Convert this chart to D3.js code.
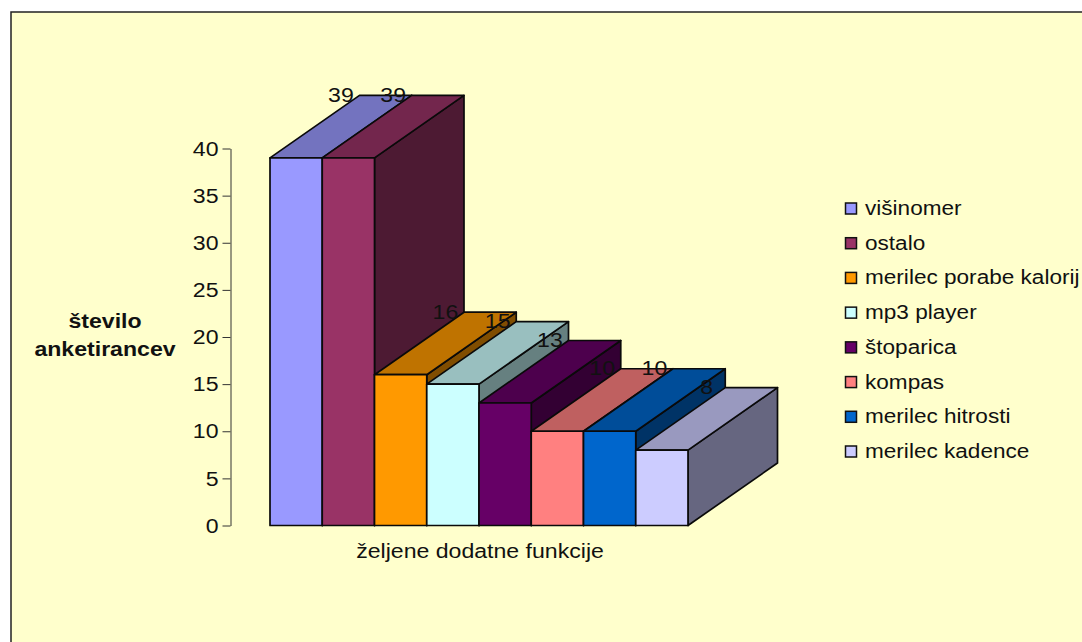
<!DOCTYPE html>
<html>
<head>
<meta charset="utf-8">
<script src="https://cdn.jsdelivr.net/npm/d3@7"></script>
<style>
  html, body { margin: 0; padding: 0; background: #fff; overflow: hidden; }
  svg { display: block; }
  text { font-family: "Liberation Sans", Arial, sans-serif; fill: #111; }
</style>
</head>
<body>
<svg id="chart" width="1082" height="642"></svg>
<script>
// Survey answers: desired extra functions and respondent counts
const categories = ["višinomer", "ostalo", "merilec porabe kalorij", "mp3 player",
                    "štoparica", "kompas", "merilec hitrosti", "merilec kadence"];
const counts = [39, 39, 16, 15, 13, 10, 10, 8];
const frontColors = ["#9999FF", "#993366", "#FF9900", "#CCFFFF",
                     "#660066", "#FF8080", "#0066CC", "#CCCCFF"];
const yTicks = [0, 5, 10, 15, 20, 25, 30, 35, 40];
const yTitleLines = ["število", "anketirancev"];
const xTitle = "željene dodatne funkcije";

const svg = d3.select("#chart");
const fontSize = 21;

// Widen glyphs horizontally around each text's own anchor point
const widen = (sel, k = 1.1) => sel.each(function () {
  const t = d3.select(this);
  const px = +t.attr("x") || 0, py = +t.attr("y") || 0;
  t.attr("x", null).attr("y", null)
   .attr("transform", `translate(${px},${py}) scale(${k},1)`);
});

// Chart area panel, its right and bottom edges run off the page
svg.append("rect")
  .attr("x", 11).attr("y", 12)
  .attr("width", 1100).attr("height", 660)
  .attr("fill", "#FFFFCC").attr("stroke", "#222").attr("stroke-width", 1.5);

const x = d3.scaleBand().domain(categories).range([270, 688]).padding(0);
const y = d3.scaleLinear().domain([0, 40]).range([525.5, 148.5]);
const depth = { dx: 89.5, dy: -62.5 };

// Value axis
const axis = svg.append("g")
  .attr("transform", "translate(230.5,0)")
  .call(d3.axisLeft(y).tickValues(yTicks).tickSize(8).tickPadding(4).tickSizeOuter(0));
axis.selectAll("path, line").attr("stroke", "#333").attr("stroke-width", 1);
axis.selectAll("text").attr("font-size", fontSize)
  .style("font-family", '"Liberation Sans", Arial, sans-serif').attr("fill", "#111")
  .call(widen);

// Shade a face by scaling the front colour
const shade = (c, k) => {
  const r = d3.rgb(c);
  return d3.rgb(r.r * k, r.g * k, r.b * k).formatHex();
};
const poly = pts => pts.map(p => p.join(",")).join(" ");

// Bars are painted left to right so that each one overlaps its neighbour's side
const bars = svg.append("g")
  .attr("stroke", "#0a0a0a").attr("stroke-width", 1.7).attr("stroke-linejoin", "round");

categories.forEach((name, i) => {
  const x0 = x(name), x1 = x0 + x.bandwidth();
  const yTop = y(counts[i]), yBase = y(0);
  const { dx, dy } = depth;
  bars.append("polygon")
    .attr("points", poly([[x1, yTop], [x1 + dx, yTop + dy], [x1 + dx, yBase + dy], [x1, yBase]]))
    .attr("fill", shade(frontColors[i], 0.5));
  bars.append("polygon")
    .attr("points", poly([[x0, yTop], [x0 + dx, yTop + dy], [x1 + dx, yTop + dy], [x1, yTop]]))
    .attr("fill", shade(frontColors[i], 0.75));
  bars.append("rect")
    .attr("x", x0).attr("y", yTop)
    .attr("width", x.bandwidth()).attr("height", yBase - yTop)
    .attr("fill", frontColors[i]);
});

// Value labels sit on the rear edge of each bar
svg.append("g").selectAll("text").data(counts).join("text")
  .attr("x", (d, i) => x(categories[i]) + x.bandwidth() / 2 + depth.dx / 2)
  .attr("y", d => y(d) + depth.dy + 6.5)
  .attr("text-anchor", "middle")
  .attr("font-size", fontSize)
  .text(d => d)
  .call(widen);

// Axis titles
svg.append("text")
  .attr("x", 480).attr("y", 557.5)
  .attr("text-anchor", "middle").attr("font-size", fontSize)
  .text(xTitle)
  .call(widen, 1.1);

svg.append("g").selectAll("text").data(yTitleLines).join("text")
  .attr("x", 105)
  .attr("y", (d, i) => 327.5 + i * 28)
  .attr("text-anchor", "middle")
  .attr("font-size", fontSize).attr("font-weight", "bold")
  .text(d => d)
  .call(widen);

// Legend
const legendY = d3.scalePoint().domain(categories).range([208.5, 451.5]);
const legend = svg.append("g").selectAll("g").data(categories).join("g")
  .attr("transform", d => `translate(845,${legendY(d)})`);
legend.append("rect")
  .attr("x", 0.5).attr("y", -5.5).attr("width", 11).attr("height", 11)
  .attr("fill", (d, i) => frontColors[i])
  .attr("stroke", "#111").attr("stroke-width", 1.5);
legend.append("text")
  .attr("x", 20).attr("y", 6.5)
  .attr("font-size", fontSize)
  .text(d => d)
  .call(widen, 1.075);
</script>
</body>
</html>
